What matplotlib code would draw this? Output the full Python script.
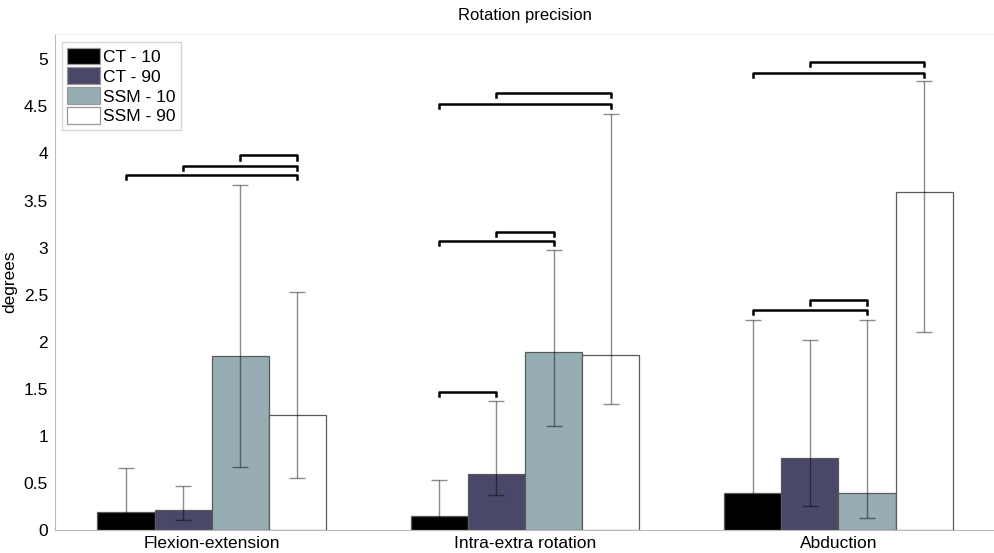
"""Rotation precision bar chart with asymmetric error bars and significance brackets."""
import matplotlib
matplotlib.use("Agg")
import matplotlib.pyplot as plt
import numpy as np

plt.rcParams["font.family"] = ["Liberation Sans", "DejaVu Sans"]

categories = ["Flexion-extension", "Intra-extra rotation", "Abduction"]
series = ["CT - 10", "CT - 90", "SSM - 10", "SSM - 90"]
colors = ["#000000", "#4a4868", "#96adb3", "#ffffff"]

# bar heights per series (rows) for each category (columns)
means = np.array([
    [0.19, 0.15, 0.39],
    [0.21, 0.59, 0.77],
    [1.85, 1.89, 0.39],
    [1.22, 1.86, 3.59],
])
# error bar lower / upper ends
err_low = np.array([
    [-0.28, -0.23, -1.45],
    [0.11, 0.37, 0.25],
    [0.67, 1.10, 0.13],
    [0.55, 1.34, 2.10],
])
err_high = np.array([
    [0.66, 0.53, 2.23],
    [0.47, 1.37, 2.02],
    [3.67, 2.98, 2.23],
    [2.53, 4.42, 4.77],
])
# significance brackets: (category, first series, second series, height)
brackets = [
    (0, 0, 3, 3.77), (0, 1, 3, 3.87), (0, 2, 3, 3.98),
    (1, 0, 3, 4.53), (1, 1, 3, 4.64), (1, 0, 2, 3.07), (1, 1, 2, 3.17), (1, 0, 1, 1.47),
    (2, 0, 3, 4.86), (2, 1, 3, 4.97), (2, 0, 2, 2.34), (2, 1, 2, 2.44),
]

fig = plt.figure(figsize=(9.95, 5.53), dpi=100)
ax = fig.add_axes([0.0553, 0.0416, 0.9447, 0.897])

x = np.arange(1, len(categories) + 1)
w = 0.1825
offsets = (np.arange(len(series)) - 1.5) * w

for i, name in enumerate(series):
    xs = x + offsets[i]
    ax.bar(xs, means[i], width=w, color=colors[i], edgecolor="#5a5a5a",
           linewidth=0.9, label=name, zorder=2)
    yerr = np.vstack([means[i] - err_low[i], err_high[i] - means[i]])
    ax.errorbar(xs, means[i], yerr=yerr, fmt="none", ecolor="black", alpha=0.45,
                elinewidth=1.0, capsize=6, capthick=1.0, zorder=3)

tick = 0.045
for c, a, b, h in brackets:
    xa = x[c] + offsets[a]
    xb = x[c] + offsets[b]
    ax.plot([xa, xa, xb, xb], [h - tick, h, h, h - tick], color="black",
            lw=1.8, solid_joinstyle="round", zorder=4)

ax.set_xlim(0.5, 3.5)
ax.set_ylim(0, 5.27)
ax.set_xticks(x)
ax.set_xticklabels(categories, fontsize=12.5)
ax.set_yticks(np.arange(0, 5.01, 0.5))
ax.set_yticklabels(["0", "0.5", "1", "1.5", "2", "2.5", "3", "3.5", "4", "4.5", "5"],
                   fontsize=12.5)
ax.tick_params(axis="y", length=0, pad=5)
ax.tick_params(axis="x", length=0, pad=4)
ax.set_ylabel("degrees", fontsize=12.5, labelpad=5)
ax.set_title("Rotation precision", fontsize=12, pad=10)

for s in ["left", "bottom"]:
    ax.spines[s].set_color("#bbbbbb")
ax.spines["top"].set_color("#f2f2f2")
ax.spines["right"].set_visible(False)

leg = ax.legend(loc="upper left", bbox_to_anchor=(0.004, 0.99), fontsize=12.5,
                frameon=True, fancybox=False, borderpad=0.3, labelspacing=0.15,
                handlelength=1.9, handleheight=1.1, handletextpad=0.15,
                borderaxespad=0.2)
leg.get_frame().set_edgecolor("#cccccc")
leg.get_frame().set_linewidth(1.0)
for p in leg.get_patches():
    p.set_edgecolor("#999999")

fig.savefig("out.png", dpi=100)
